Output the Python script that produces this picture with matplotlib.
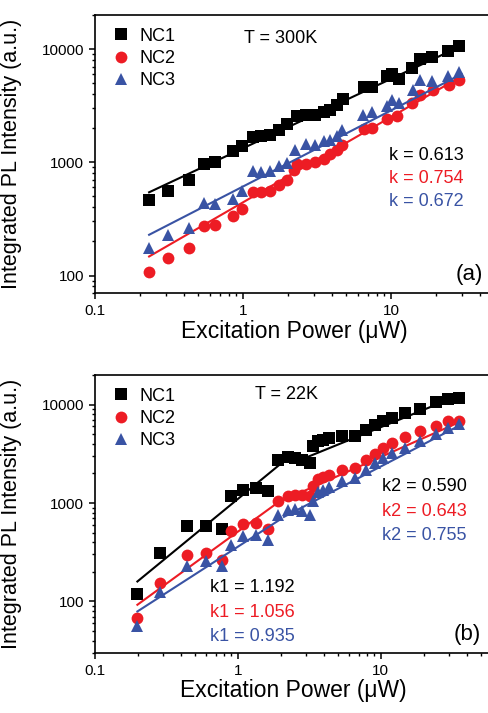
import matplotlib.pyplot as plt
import matplotlib.ticker as ticker
import numpy as np

plt.rcParams["font.family"] = ["Liberation Sans", "DejaVu Sans"]

# colori delle tre serie
colori = ["black", "#ed1c24", "#3953a4"]
marker = ["s", "o", "^"]
dim_marker = [8.5, 8.5, 9]
nomi = ["NC1", "NC2", "NC3"]

# pannello (a): T = 300K
xa_nc1 = [0.232, 0.309, 0.43, 0.542, 0.65, 0.861, 0.99, 1.16, 1.33, 1.53, 1.76, 1.99, 2.30, 2.66, 3.06,
          3.52, 3.86, 4.29, 4.75, 6.56, 7.48, 9.35, 10.2, 11.3, 13.9, 15.6, 19.0, 24.4, 28.6]
ya_nc1 = [467, 552, 700, 963, 1004, 1247, 1400, 1668, 1714, 1750, 1937, 2173, 2541, 2630, 2630,
          2755, 2910, 3222, 3614, 4615, 4615, 5810, 6050, 5430, 6790, 8160, 8490, 9660, 10690]
xa_nc2 = [0.232, 0.309, 0.43, 0.542, 0.65, 0.861, 0.99, 1.16, 1.33, 1.53, 1.76, 1.99, 2.20, 2.33, 2.66,
          3.06, 3.52, 3.86, 4.29, 4.67, 6.56, 7.48, 9.35, 11.0, 13.9, 15.8, 19.2, 24.6, 28.8]
ya_nc2 = [108, 142, 175, 271, 277, 332, 385, 541, 541, 552, 632, 700, 847, 970, 970,
          1004, 1067, 1189, 1289, 1428, 1963, 2004, 2404, 2541, 3334, 3948, 4312, 4840, 5360]
xa_nc3 = [0.232, 0.309, 0.43, 0.542, 0.65, 0.861, 0.99, 1.16, 1.33, 1.53, 1.76, 1.99, 2.26, 2.66, 3.06,
          3.52, 3.86, 4.29, 4.67, 6.5, 7.4, 9.35, 10.2, 11.3, 14.0, 15.6, 19.0, 24.4, 28.6]
ya_nc3 = [175, 229, 265, 436, 430, 473, 560, 830, 815, 830, 919, 984, 1289, 1456, 1428,
          1528, 1581, 1690, 1937, 2630, 2776, 3113, 3565, 3334, 4312, 5360, 5180, 5810, 6220]
k_a = [0.613, 0.754, 0.672]
A_a = [1330, 443, 611]

# pannello (b): T = 22K
xb = [0.198, 0.285, 0.443, 0.597, 0.769, 0.889, 1.09, 1.34, 1.63, 1.91, 2.25, 2.51, 2.83, 3.18, 3.36,
      3.61, 3.91, 4.35, 5.31, 6.58, 7.94, 9.08, 10.4, 12.0, 14.7, 18.7, 24.5, 29.6, 35.1]
yb_nc1 = [119, 310, 579, 579, 544, 1188, 1345, 1421, 1314, 2760, 2913, 2890, 2760, 2552, 3767,
          4238, 4330, 4580, 4764, 4764, 5570, 6262, 6870, 7313, 8230, 9040, 10570, 11420, 11690]
yb_nc2 = [68, 153, 298, 310, 265, 523, 611, 626, 544, 1057, 1188, 1216, 1216, 1188, 1500,
          1754, 1837, 1942, 2184, 2270, 2760, 3148, 3625, 4076, 4653, 5355, 6023, 6773, 6877]
yb_nc3 = [56, 126, 227, 255, 231, 377, 458, 476, 424, 761, 855, 864, 822, 761, 1040,
          1283, 1367, 1443, 1660, 1795, 2184, 2552, 2870, 3222, 3625, 4238, 5070, 5790, 6412]
k1_b = [1.192, 1.056, 0.935]
A1_b = [1100, 512, 360]
k2_b = [0.590, 0.643, 0.755]
A2_b = [1514, 668, 413]
x_break = [2.6, 2.0, 2.1]


def legge_potenza(x, A, k):
    return A * np.asarray(x) ** k


def stile_assi(ax, ylim):
    ax.set_xscale("log")
    ax.set_yscale("log")
    ax.set_ylim(*ylim)
    ax.set_xticks([0.1, 1, 10])
    ax.set_xticklabels(["0.1", "1", "10"])
    ax.set_yticks([100, 1000, 10000])
    ax.set_yticklabels(["100", "1000", "10000"])
    ax.xaxis.set_minor_locator(ticker.LogLocator(subs=np.arange(2, 10)))
    ax.yaxis.set_minor_locator(ticker.LogLocator(subs=np.arange(2, 10)))
    ax.xaxis.set_minor_formatter(ticker.NullFormatter())
    ax.yaxis.set_minor_formatter(ticker.NullFormatter())
    ax.tick_params(which="major", direction="out", length=4.5, width=1.1, labelsize=11)
    ax.tick_params(which="minor", direction="out", length=2.5, width=1.0)
    for s in ax.spines.values():
        s.set_linewidth(1.2)
    ax.set_xlabel("Excitation Power (μW)", fontsize=16.5, labelpad=1)
    ax.set_ylabel("Integrated PL Intensity (a.u.)", fontsize=15.5)
    ax.yaxis.set_label_coords(-0.183, 0.5)


fig = plt.figure(figsize=(4.88, 7.13), dpi=100)
ax1 = fig.add_axes([95 / 488, 0.589, 399.5 / 488, 0.390])
ax2 = fig.add_axes([95 / 488, 0.0842, 397 / 488, 0.390])

# pannello (a)
dati_a = [(xa_nc1, ya_nc1), (xa_nc2, ya_nc2), (xa_nc3, ya_nc3)]
for i, (x, y) in enumerate(dati_a):
    ax1.plot(x, y, marker[i], color=colori[i], markersize=dim_marker[i], label=nomi[i],
             markeredgewidth=0)
    xx = np.array([min(x), max(x) * 1.05])
    ax1.plot(xx, legge_potenza(xx, A_a[i], k_a[i]), "-", color=colori[i], lw=1.5)
ax1.set_xlim(0.1, 50)
stile_assi(ax1, (70, 20000))
ax1.legend(loc="upper left", bbox_to_anchor=(0.012, 1.0), frameon=False, fontsize=13,
           handlelength=1.0, handletextpad=0.5, labelspacing=0.3, numpoints=1,
           borderaxespad=0.3)
ax1.text(0.372, 0.917, "T = 300K", transform=ax1.transAxes, fontsize=13, va="center")
for i in range(3):
    ax1.text(0.922, 0.496 - 0.083 * i, f"k = {k_a[i]:.3f}", transform=ax1.transAxes,
             fontsize=13, ha="right", va="center", color=colori[i])
ax1.text(0.937, 0.065, "(a)", transform=ax1.transAxes, fontsize=16, ha="center", va="center")

# pannello (b)
dati_b = [yb_nc1, yb_nc2, yb_nc3]
for i, y in enumerate(dati_b):
    ax2.plot(xb, y, marker[i], color=colori[i], markersize=dim_marker[i], label=nomi[i],
             markeredgewidth=0)
    x1 = np.array([min(xb), 1.95])
    x2 = np.array([x_break[i], max(xb) * 1.03])
    ax2.plot(x1, legge_potenza(x1, A1_b[i], k1_b[i]), "-", color=colori[i], lw=1.5)
    ax2.plot(x2, legge_potenza(x2, A2_b[i], k2_b[i]), "-", color=colori[i], lw=1.5)
ax2.set_xlim(0.1, 60)
stile_assi(ax2, (30, 20000))
ax2.legend(loc="upper left", bbox_to_anchor=(0.012, 1.0), frameon=False, fontsize=13,
           handlelength=1.0, handletextpad=0.5, labelspacing=0.3, numpoints=1,
           borderaxespad=0.3)
ax2.text(0.402, 0.928, "T = 22K", transform=ax2.transAxes, fontsize=13, va="center")
for i in range(3):
    ax2.text(0.937, 0.597 - 0.087 * i, f"k2 = {k2_b[i]:.3f}", transform=ax2.transAxes,
             fontsize=13, ha="right", va="center", color=colori[i])
    ax2.text(0.289, 0.234 - 0.087 * i, f"k1 = {k1_b[i]:.3f}", transform=ax2.transAxes,
             fontsize=13, ha="left", va="center", color=colori[i])
ax2.text(0.937, 0.068, "(b)", transform=ax2.transAxes, fontsize=16, ha="center", va="center")

fig.savefig("out.png", dpi=100)
